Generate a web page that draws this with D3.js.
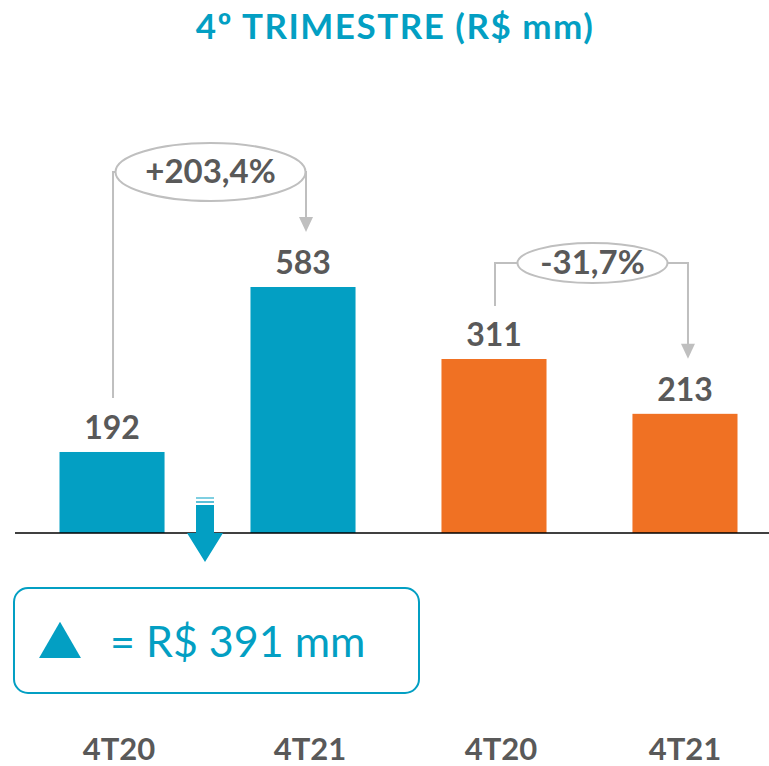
<!DOCTYPE html>
<html>
<head>
<meta charset="utf-8">
<script src="https://cdn.jsdelivr.net/npm/d3@7"></script>
<style>
  body { margin: 0; background: #fff; }
  text { font-family: Lato, "Open Sans", sans-serif; }
</style>
</head>
<body>
<div id="chart"></div>
<script>
// data
var categories = ["4T20", "4T21", "4T20", "4T21"];
var values = [192, 583, 311, 213];
var groups = ["a", "a", "b", "b"];
var changes = ["+203,4%", "-31,7%"];
var title = "4º TRIMESTRE (R$ mm)";

var w = 769, h = 766;
var baseY = 533;
var teal = "#039fc3", orange = "#f07123", grey = "#595959", lineGrey = "#bfbfbf";

var svg = d3.select("#chart").append("svg")
    .attr("width", w)
    .attr("height", h);

// x scale: one band per bar
var xScale = d3.scaleBand()
    .domain(d3.range(categories.length))
    .range([59.5, 737.5])
    .paddingInner(0.45)
    .paddingOuter(0);

// the two halves are drawn on different scales in the original
var yTeal = d3.scaleLinear().domain([0, 583]).range([baseY, 287]);
var yOrange = d3.scaleLinear().domain([0, 311]).range([baseY, 359]);
function yOf(i) { return groups[i] === "a" ? yTeal : yOrange; }
function cx(i) { return xScale(i) + xScale.bandwidth() / 2; }

svg.append("text")
    .attr("x", 395).attr("y", 39)
    .attr("text-anchor", "middle")
    .attr("fill", teal)
    .attr("font-weight", "bold")
    .attr("font-size", 35)
    .attr("letter-spacing", 1.5)
    .text(title);

// bars
svg.selectAll("rect.bar")
    .data(values)
    .enter().append("rect")
    .attr("class", "bar")
    .attr("x", function(d, i) { return xScale(i); })
    .attr("width", xScale.bandwidth())
    .attr("y", function(d, i) { return yOf(i)(d); })
    .attr("height", function(d, i) { return baseY - yOf(i)(d); })
    .attr("fill", function(d, i) { return groups[i] === "a" ? teal : orange; });

// value labels
svg.selectAll("text.val")
    .data(values)
    .enter().append("text")
    .attr("class", "val")
    .attr("x", function(d, i) { return cx(i); })
    .attr("y", function(d, i) { return yOf(i)(d) - 13; })
    .attr("text-anchor", "middle")
    .attr("fill", grey)
    .attr("font-weight", "bold")
    .attr("font-size", 32)
    .text(function(d) { return d; });

// baseline
svg.append("line")
    .attr("x1", 15).attr("x2", w)
    .attr("y1", baseY).attr("y2", baseY)
    .attr("stroke", "#000").attr("stroke-width", 1.5);

// category labels
svg.selectAll("text.cat")
    .data(categories)
    .enter().append("text")
    .attr("class", "cat")
    .attr("x", function(d, i) { return cx(i) + (i < 3 ? 7 : 0); })
    .attr("y", 760)
    .attr("text-anchor", "middle")
    .attr("fill", grey)
    .attr("font-weight", "bold")
    .attr("font-size", 31)
    .text(function(d) { return d; });

// change annotations (ellipse + bracket arrows)
function change(i0, i1, label, cy, rx, ry, yLeftEnd) {
    var xa = cx(i0) + 1;
    var xb = cx(i1) + 3;
    var ex = (xa + xb) / 2 + 1;
    var tip = yOf(i1)(values[i1]) - 55;
    var g = svg.append("g")
        .attr("fill", "none")
        .attr("stroke", lineGrey)
        .attr("stroke-width", 2);
    g.append("path")
        .attr("d", "M" + xa + "," + yLeftEnd + "V" + cy + "H" + (ex - rx));
    g.append("path")
        .attr("d", "M" + (ex + rx) + "," + cy + "H" + xb + "V" + (tip - 14));
    g.append("path")
        .attr("d", "M" + (xb - 7) + "," + (tip - 15) + "L" + (xb + 7) + "," + (tip - 15) + "L" + xb + "," + tip + "Z")
        .attr("fill", lineGrey).attr("stroke", "none");
    g.append("ellipse")
        .attr("cx", ex).attr("cy", cy)
        .attr("rx", rx).attr("ry", ry)
        .attr("fill", "#fff");
    svg.append("text")
        .attr("x", ex).attr("y", cy + 11)
        .attr("text-anchor", "middle")
        .attr("fill", grey)
        .attr("font-weight", "bold")
        .attr("font-size", 33)
        .text(label);
}
change(0, 1, changes[0], 172, 95, 29, 398);
change(2, 3, changes[1], 263, 75, 20, 306);

// down arrow between the first two bars
var ax = 205;
var arrow = svg.append("g");
arrow.append("rect").attr("x", ax - 9).attr("y", 497).attr("width", 18).attr("height", 2).attr("fill", "#7fcfe1");
arrow.append("rect").attr("x", ax - 9).attr("y", 501).attr("width", 18).attr("height", 2).attr("fill", "#5cc0d8");
arrow.append("path")
    .attr("d", "M" + (ax - 9) + ",505H" + (ax + 9) + "V" + baseY + "H" + (ax + 18) + "L" + ax + ",562L" + (ax - 18) + "," + baseY + "H" + (ax - 9) + "Z")
    .attr("fill", teal);

// box with the difference
svg.append("rect")
    .attr("x", 14).attr("y", 588)
    .attr("width", 405).attr("height", 105)
    .attr("rx", 14)
    .attr("fill", "#fff")
    .attr("stroke", teal).attr("stroke-width", 2);
svg.append("path")
    .attr("d", d3.symbol(d3.symbolTriangle, 760)())
    .attr("transform", "translate(60,646)")
    .attr("fill", teal);
svg.append("text")
    .attr("x", 110).attr("y", 657)
    .attr("fill", teal)
    .attr("font-size", 43)
    .text("= R$ " + (values[1] - values[0]) + " mm");
</script>
</body>
</html>
